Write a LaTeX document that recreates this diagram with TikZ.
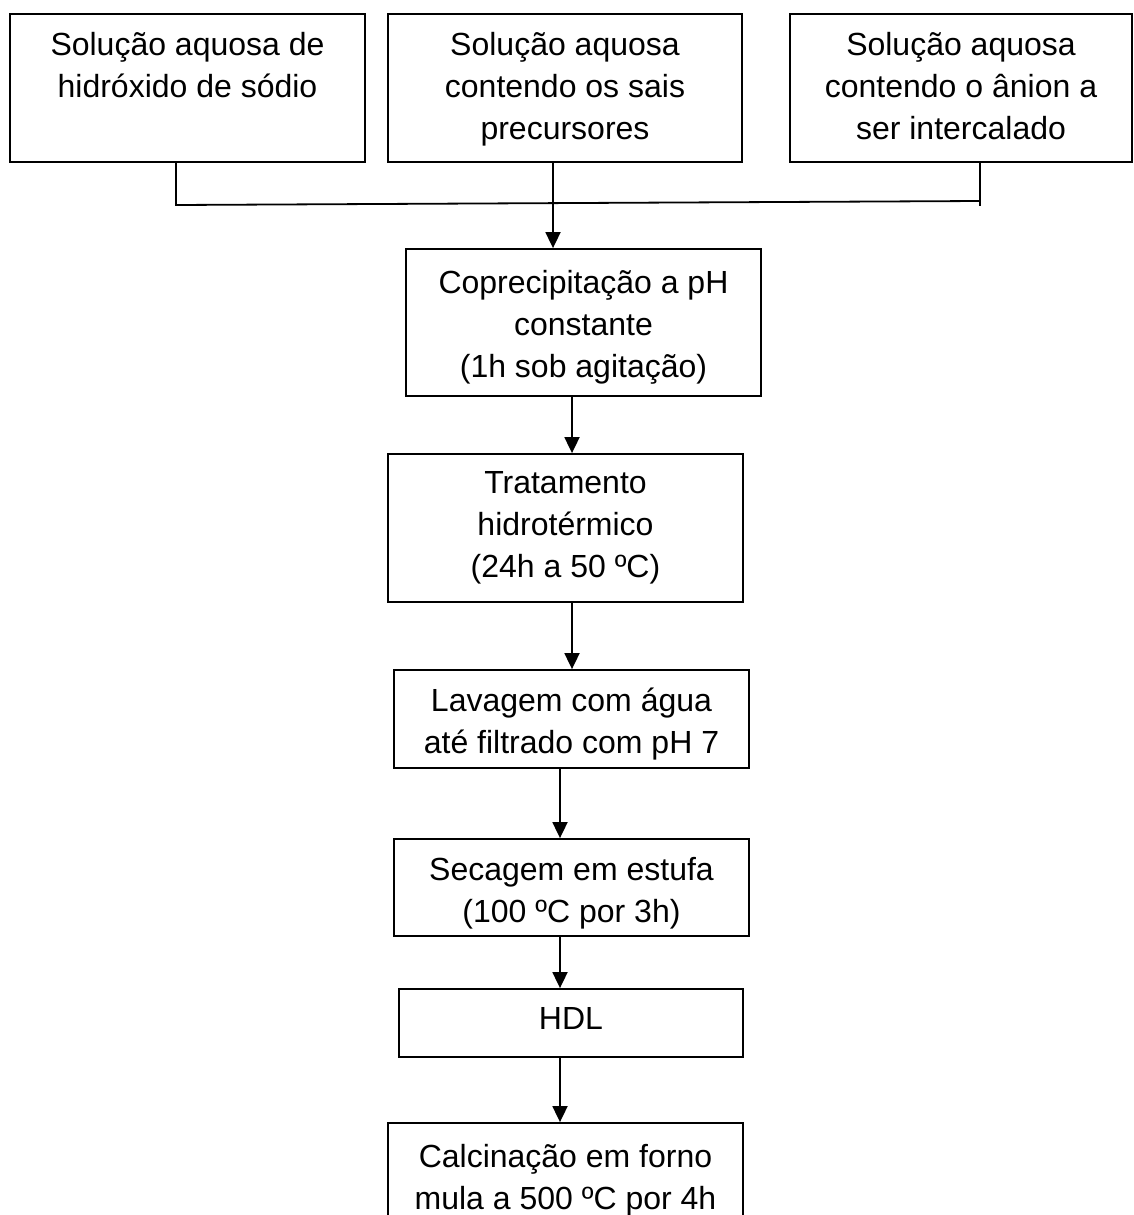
\documentclass[tikz,border=0pt]{standalone}
\usepackage{fontspec}
\setmainfont{Liberation Sans}
\usetikzlibrary{arrows.meta}
\newcommand{\boxtext}[4]{\parbox[c][#2][t]{#1}{\centering\rule{0pt}{#3}#4\par}}
\begin{document}
\begin{tikzpicture}[x=1pt,y=-1pt,
  stepbox/.style={draw, line width=1.8pt, rectangle, inner sep=0pt, font=\fontsize{32}{42}\selectfont},
  arr/.style={line width=1.8pt, -{Triangle[length=16pt,width=15pt]}},
  ln/.style={line width=1.8pt}]
\useasboundingbox (0,0) rectangle (1133,1215);
\clip (0,0) rectangle (1133,1215);
% top boxes
\node[stepbox] (s1) at (187.5,88) {\boxtext{355pt}{148pt}{41pt}{Solução aquosa de\\hidróxido de sódio}};
\node[stepbox] (s2) at (565,88) {\boxtext{354pt}{148pt}{41pt}{Solução aquosa\\contendo os sais\\precursores}};
\node[stepbox] (s3) at (961,88) {\boxtext{342pt}{148pt}{41pt}{Solução aquosa\\contendo o ânion a\\ser intercalado}};
% process boxes
\node[stepbox] (s4) at (583.5,322.5) {\boxtext{355pt}{147pt}{44pt}{Coprecipitação a pH\\constante\\(1h sob agitação)}};
\node[stepbox] (s5) at (565.5,528) {\boxtext{355pt}{148pt}{39pt}{Tratamento\\hidrotérmico\\(24h a 50 ºC)}};
\node[stepbox] (s6) at (571.5,719) {\boxtext{355pt}{98pt}{41pt}{Lavagem com água\\até filtrado com pH 7}};
\node[stepbox] (s7) at (571.5,887.5) {\boxtext{355pt}{97pt}{41pt}{Secagem em estufa\\(100 ºC por 3h)}};
\node[stepbox] (s8) at (571,1023) {\boxtext{344pt}{68pt}{40pt}{HDL}};
\node[stepbox] (s9) at (565.5,1193) {\boxtext{355pt}{140pt}{44pt}{Calcinação em forno\\mula a 500 ºC por 4h}};
% junction coordinates
\coordinate (j1) at (176,205);
\coordinate (j3) at (980,201);
\coordinate (j3b) at (980,206);
\coordinate (m2) at (553,0);
\coordinate (m4) at (572,0);
\coordinate (m6) at (560,0);
% collecting lines
\draw[ln] (s1.south -| j1) -- (j1) -- (j3);
\draw[ln] (s3.south -| j3) -- (j3b);
\draw[arr] (s2.south -| m2) -- (s4.north -| m2);
% flow arrows
\draw[arr] (s4.south -| m4) -- (s5.north -| m4);
\draw[arr] (s5.south -| m4) -- (s6.north -| m4);
\draw[arr] (s6.south -| m6) -- (s7.north -| m6);
\draw[arr] (s7.south -| m6) -- (s8.north -| m6);
\draw[arr] (s8.south -| m6) -- (s9.north -| m6);
\end{tikzpicture}
\end{document}
